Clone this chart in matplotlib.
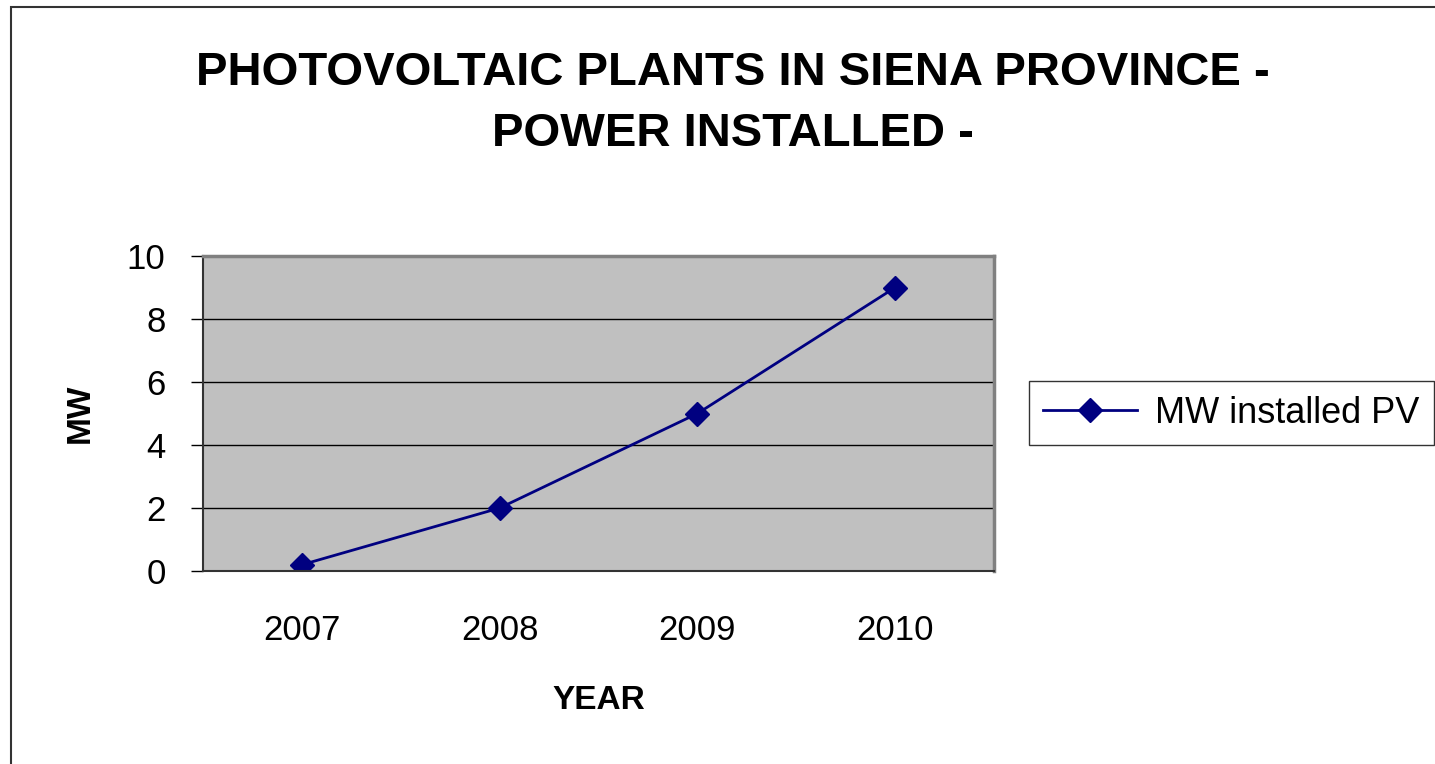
import matplotlib.pyplot as plt
from matplotlib.patches import Rectangle

# Data
years = ['2007', '2008', '2009', '2010']
mw_installed = [0.2, 2.0, 5.0, 9.0]
y_ticks = [0, 2, 4, 6, 8, 10]

plt.rcParams['font.family'] = ['Liberation Sans', 'DejaVu Sans']

fig = plt.figure(figsize=(14.35, 7.64), dpi=100)
ax = fig.add_axes([0.1415, 0.2526, 0.5512, 0.4123])

# Outer frame of the chart area
fig.patches.append(Rectangle((11 / 1435, -0.01), 1.0, 1 - 7 / 764 + 0.01,
                             transform=fig.transFigure, fill=False,
                             edgecolor='#333333', linewidth=1.5))

ax.set_facecolor('#C0C0C0')
x = list(range(len(years)))
ax.plot(x, mw_installed, color='#000080', linewidth=2, marker='D',
        markersize=12, label='MW installed PV')

ax.set_xlim(-0.5, len(years) - 0.5)
ax.set_ylim(0, 10)
ax.set_xticks(x)
ax.set_xticklabels(years)
ax.set_yticks(y_ticks)
ax.grid(axis='y', color='black', linewidth=1)
ax.set_axisbelow(True)

ax.tick_params(axis='y', length=9, width=1, labelsize=25, pad=18)
ax.tick_params(axis='x', length=0, labelsize=25, pad=31)

for side in ['left', 'bottom']:
    ax.spines[side].set_color('#333333')
    ax.spines[side].set_linewidth(1.5)
for side in ['top', 'right']:
    ax.spines[side].set_color('#808080')
    ax.spines[side].set_linewidth(2.5)

ax.set_xlabel('YEAR', fontsize=24, fontweight='bold', labelpad=27)
ax.set_ylabel('MW', fontsize=24, fontweight='bold', labelpad=22)

fig.text(0.511, 0.905, 'PHOTOVOLTAIC PLANTS IN SIENA PROVINCE -',
         ha='center', va='center', fontsize=34, fontweight='bold')
fig.text(0.511, 0.825, 'POWER INSTALLED -',
         ha='center', va='center', fontsize=34, fontweight='bold')

leg = fig.legend(loc='center left', bbox_to_anchor=(0.7045, 0.4594),
                 fontsize=26, frameon=True, fancybox=False,
                 handlelength=2.6, handletextpad=0.5, borderpad=0.4)
leg.get_frame().set_edgecolor('black')
leg.get_frame().set_linewidth(1)

fig.savefig('out.png', dpi=100)
